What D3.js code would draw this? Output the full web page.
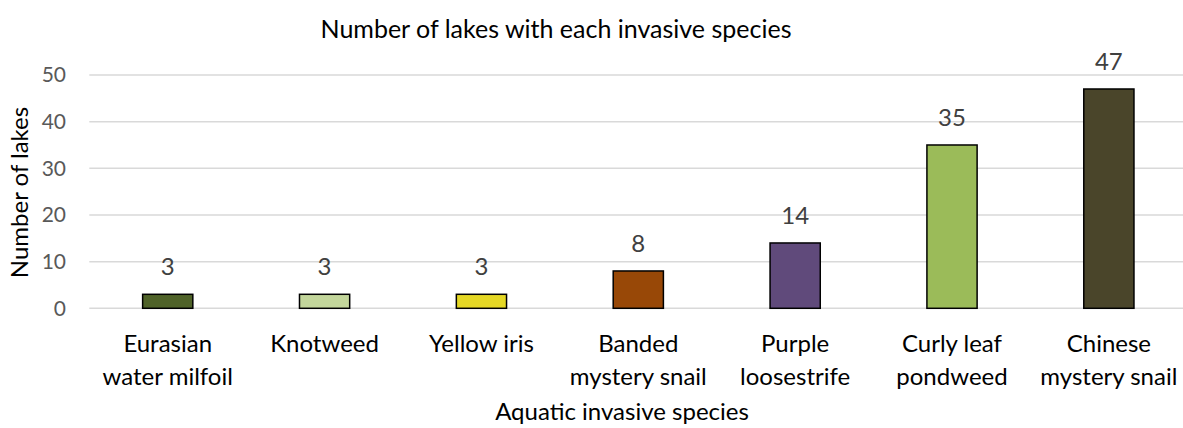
<!DOCTYPE html>
<html>
<head>
<meta charset="utf-8">
<script src="https://cdn.jsdelivr.net/npm/d3@7"></script>
<style>
  body { margin: 0; background: #fff; }
  svg { display: block; font-family: Lato, "Open Sans", sans-serif; }
</style>
</head>
<body>
<div id="chart"></div>
<script>
// data
const species = ["Eurasian water milfoil", "Knotweed", "Yellow iris", "Banded mystery snail",
                 "Purple loosestrife", "Curly leaf pondweed", "Chinese mystery snail"];
const speciesLines = [["Eurasian", "water milfoil"], ["Knotweed"], ["Yellow iris"], ["Banded", "mystery snail"],
                      ["Purple", "loosestrife"], ["Curly leaf", "pondweed"], ["Chinese", "mystery snail"]];
const lakeCounts = [3, 3, 3, 8, 14, 35, 47];
const barColors = ["#4f6228", "#c3d69b", "#e5d825", "#984807", "#604a7b", "#9bbb59", "#4a452a"];
const yTicks = [0, 10, 20, 30, 40, 50];

const width = 1183, height = 428;

let svg = d3.select("#chart").append("svg")
    .attr("width", width).attr("height", height);

//Scales
let x = d3.scaleBand().domain(species).range([89.3, 1187.3])
    .paddingInner(0.68).paddingOuter(0.34);
let y = d3.scaleLinear().domain([0, 50]).range([308.3, 75]);

//Gridlines
svg.append("g").selectAll("line").data(yTicks).enter().append("line")
    .attr("x1", 89.3).attr("x2", 1187.3)
    .attr("y1", d => y(d)).attr("y2", d => y(d))
    .attr("stroke", "#d9d9d9").attr("stroke-width", 1.5);

//Y axis tick labels
let yAxis = d3.axisLeft(y).tickValues(yTicks).tickSize(0).tickPadding(0);
let yg = svg.append("g").attr("transform", "translate(66,0)").call(yAxis);
yg.select(".domain").remove();
yg.selectAll("text").attr("font-family", "Lato").attr("font-size", 21).attr("fill", "#595959");

//Bars
svg.append("g").selectAll("rect").data(lakeCounts).enter().append("rect")
    .attr("x", (d, i) => x(species[i]))
    .attr("width", x.bandwidth())
    .attr("y", d => y(d))
    .attr("height", d => y(0) - y(d))
    .attr("fill", (d, i) => barColors[i])
    .attr("stroke", "#000").attr("stroke-width", 1.5);

//Data labels
svg.append("g").selectAll("text").data(lakeCounts).enter().append("text")
    .attr("x", (d, i) => x(species[i]) + x.bandwidth() / 2)
    .attr("y", d => y(d) - 19)
    .attr("text-anchor", "middle")
    .attr("font-size", 24).attr("fill", "#404040")
    .text(d => d);

//Category labels
let cats = svg.append("g").selectAll("text").data(species).enter().append("text")
    .attr("x", d => x(d) + x.bandwidth() / 2)
    .attr("y", 352)
    .attr("text-anchor", "middle")
    .attr("font-size", 24).attr("fill", "#000");
cats.each(function(d, i) {
    d3.select(this).selectAll("tspan").data(speciesLines[i]).enter().append("tspan")
        .attr("x", x(d) + x.bandwidth() / 2)
        .attr("dy", (t, j) => j === 0 ? 0 : 33)
        .text(t => t);
});

//Axis titles
svg.append("text").attr("x", 622).attr("y", 420)
    .attr("text-anchor", "middle").attr("font-size", 24).attr("fill", "#000")
    .text("Aquatic invasive species");

svg.append("text").attr("transform", "translate(28,192.5) rotate(-90)")
    .attr("text-anchor", "middle").attr("font-size", 24).attr("fill", "#000")
    .text("Number of lakes");

//Title
svg.append("text").attr("x", 556).attr("y", 38)
    .attr("text-anchor", "middle").attr("font-size", 25).attr("fill", "#000")
    .text("Number of lakes with each invasive species");
</script>
</body>
</html>
